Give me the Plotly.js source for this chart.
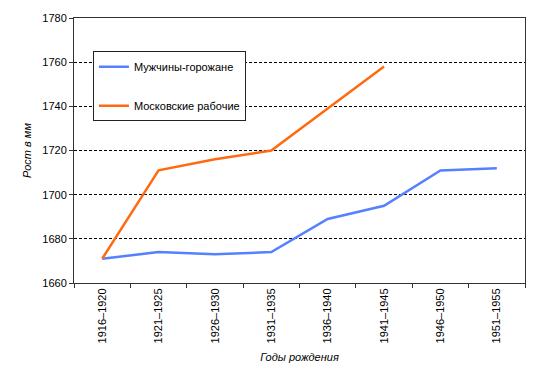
<!DOCTYPE html>
<html><head><meta charset="utf-8">
<script src="https://cdn.plot.ly/plotly-3.0.1.min.js"></script>
<style>body{margin:0;padding:0;background:#fff}#c{width:537px;height:380px}</style>
</head><body><div id="c"></div>
<script>
const categories = ["1916–1920","1921–1925","1926–1930","1931–1935","1936–1940","1941–1945","1946–1950","1951–1955"];
const urbanMen = [1671, 1674, 1673, 1674, 1689, 1695, 1711, 1712];
const moscowWorkers = [1671, 1711, 1716, 1720, 1739, 1758, null, null];
const seriesNames = ["Мужчины-горожане", "Московские рабочие"];

const traces = [
  {x: categories, y: urbanMen, name: seriesNames[0], type: "scatter", mode: "lines",
   line: {color: "#5580FF", width: 2.5}, legendgroup: "a"},
  {x: categories, y: moscowWorkers, name: seriesNames[1], type: "scatter", mode: "lines",
   line: {color: "#FF6A10", width: 2.5}, legendgroup: "b", connectgaps: false}
];
const layout = {
  width: 537, height: 380,
  margin: {l: 74, r: 12, t: 18, b: 97},
  paper_bgcolor: "#fff", plot_bgcolor: "#fff",
  font: {family: "Liberation Sans, Arial, sans-serif", size: 11, color: "#000"},
  showlegend: true,
  legend: {x: 0.042, y: 0.875, xanchor: "left", yanchor: "top",
    bordercolor: "#222", borderwidth: 1, bgcolor: "#fff",
    font: {size: 11, color: "#000"}, tracegroupgap: 20, itemwidth: 30},
  xaxis: {type: "category", range: [-0.5, 7.5], tickson: "boundaries",
    ticks: "outside", ticklen: 4, tickcolor: "#333", tickangle: -90,
    showline: true, linecolor: "#333", linewidth: 1, mirror: true, showgrid: false,
    title: {text: "Годы рождения", font: {size: 11, style: "italic"}, standoff: 10}},
  yaxis: {range: [1660, 1780], dtick: 20, ticks: "outside", ticklen: 4, tickcolor: "#333",
    showline: true, linecolor: "#333", linewidth: 1, mirror: true,
    showgrid: true, gridcolor: "#000", griddash: "3px,2px", gridwidth: 1, zeroline: false,
    title: {text: "Рост в мм", font: {size: 11, style: "italic"}, standoff: 8}}
};
Plotly.newPlot("c", traces, layout, {displayModeBar: false, staticPlot: true});
</script></body></html>
